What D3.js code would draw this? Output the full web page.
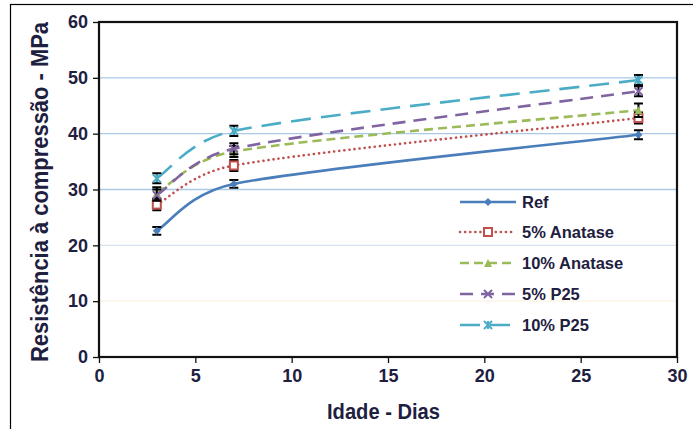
<!DOCTYPE html>
<html><head><meta charset="utf-8">
<script src="https://cdn.jsdelivr.net/npm/d3@7"></script>
<style>body{margin:0;background:#fff}svg{display:block}</style>
</head><body>
<script>
const days = [3, 7, 28];
const seriesNames = ["Ref", "5% Anatase", "10% Anatase", "5% P25", "10% P25"];
const refVals = [22.6, 31.0, 39.8];
const anat5Vals = [27.3, 34.3, 42.8];
const anat10Vals = [29.4, 36.8, 44.2];
const p25_5Vals = [29.0, 37.3, 47.6];
const p25_10Vals = [32.0, 40.5, 49.6];
const refErr = [0.7, 0.7, 0.8];
const anat5Err = [1.0, 1.0, 1.0];
const anat10Err = [1.0, 1.0, 1.2];
const p25_5Err = [1.0, 1.0, 0.9];
const p25_10Err = [0.9, 0.9, 0.9];
const xTicks = [0, 5, 10, 15, 20, 25, 30];
const yTicks = [0, 10, 20, 30, 40, 50, 60];

const W = 693, H = 429;
const svg = d3.select("body").append("svg").attr("width", W).attr("height", H);
const m = {l: 99, r: 677, t: 22, b: 357};
const x = d3.scaleLinear().domain([0, 30]).range([m.l, m.r]);
const y = d3.scaleLinear().domain([0, 60]).range([m.b, m.t]);
const txtColor = "#1e2040";
const font = "'Liberation Sans', Arial, sans-serif";

// outer frame
svg.append("rect").attr("x", 10.5).attr("y", 4.5).attr("width", 800).attr("height", 600)
  .attr("fill", "none").attr("stroke", "#000").attr("stroke-width", 1.2);

// gridlines
const gridColors = {10: "#fbf3e2", 20: "#d6e3ee", 30: "#a9c9e6", 40: "#a9c9e6", 50: "#a9c9e6"};
svg.append("g").selectAll("line").data(yTicks.filter(d => d > 0 && d < 60)).join("line")
  .attr("x1", m.l).attr("x2", m.r).attr("y1", d => y(d)).attr("y2", d => y(d))
  .attr("stroke", d => gridColors[d]).attr("stroke-width", 1.3);

// plot frame
svg.append("rect").attr("x", m.l).attr("y", m.t).attr("width", m.r - m.l).attr("height", m.b - m.t)
  .attr("fill", "none").attr("stroke", "#111").attr("stroke-width", 2.2);

// axes
const xAxis = svg.append("g").attr("transform", `translate(0,${m.b})`)
  .call(d3.axisBottom(x).tickValues(xTicks).tickSize(6).tickPadding(6));
const yAxis = svg.append("g").attr("transform", `translate(${m.l},0)`)
  .call(d3.axisLeft(y).tickValues(yTicks).tickSize(6).tickPadding(5));
[xAxis, yAxis].forEach(a => {
  a.select(".domain").remove();
  a.selectAll("line").attr("stroke", "#111").attr("stroke-width", 1.3);
  a.selectAll("text").attr("fill", txtColor).attr("font-family", font)
    .attr("font-weight", "bold").attr("font-size", 18);
});

// axis titles
svg.append("text").attr("x", 383.5).attr("y", 419).attr("text-anchor", "middle")
  .attr("font-family", font).attr("font-weight", "bold").attr("font-size", 22)
  .attr("textLength", 113).attr("lengthAdjust", "spacingAndGlyphs")
  .attr("fill", txtColor).text("Idade - Dias");
svg.append("text").attr("transform", "translate(48,192) rotate(-90)").attr("text-anchor", "middle")
  .attr("font-family", font).attr("font-weight", "bold").attr("font-size", 23)
  .attr("textLength", 340).attr("lengthAdjust", "spacingAndGlyphs")
  .attr("fill", txtColor).text("Resistência à compressão - MPa");

const series = [
  {name: seriesNames[0], vals: refVals, err: refErr, color: "#4a7ebb", dash: null, marker: "diamond", cap: "butt"},
  {name: seriesNames[1], vals: anat5Vals, err: anat5Err, color: "#c0504d", dash: "0.1 5", marker: "square", cap: "round"},
  {name: seriesNames[2], vals: anat10Vals, err: anat10Err, color: "#9bbb59", dash: "9 5", marker: "triangle", cap: "butt"},
  {name: seriesNames[3], vals: p25_5Vals, err: p25_5Err, color: "#8064a2", dash: "13 8", marker: "x", cap: "butt"},
  {name: seriesNames[4], vals: p25_10Vals, err: p25_10Err, color: "#4bacc6", dash: "20 10", marker: "star", cap: "butt"}
];

// Excel-like smoothed line: Bezier with tension 1/6, arms capped at half the segment length
function smoothPath(pts) {
  const p = pts.map(d => [x(d[0]), y(d[1])]);
  const path = d3.path();
  path.moveTo(p[0][0], p[0][1]);
  const dist = (a, b) => Math.hypot(b[0] - a[0], b[1] - a[1]);
  for (let i = 0; i < p.length - 1; i++) {
    const p0 = p[Math.max(0, i - 1)], p1 = p[i], p2 = p[i + 1], p3 = p[Math.min(p.length - 1, i + 2)];
    const d12 = dist(p1, p2);
    const v1 = [p2[0] - p0[0], p2[1] - p0[1]], l1 = Math.hypot(v1[0], v1[1]);
    const v2 = [p3[0] - p1[0], p3[1] - p1[1]], l2 = Math.hypot(v2[0], v2[1]);
    const a1 = Math.min(l1 / 6, d12 / 2), a2 = Math.min(l2 / 6, d12 / 2);
    const c1 = [p1[0] + v1[0] / l1 * a1, p1[1] + v1[1] / l1 * a1];
    const c2 = [p2[0] - v2[0] / l2 * a2, p2[1] - v2[1] / l2 * a2];
    path.bezierCurveTo(c1[0], c1[1], c2[0], c2[1], p2[0], p2[1]);
  }
  return path.toString();
}

function drawMarker(g, type, cx, cy, color) {
  const s = 4;
  if (type === "diamond") {
    g.append("path").attr("d", `M${cx},${cy-s}L${cx+s},${cy}L${cx},${cy+s}L${cx-s},${cy}Z`).attr("fill", color);
  } else if (type === "square") {
    g.append("rect").attr("x", cx-s).attr("y", cy-s).attr("width", 2*s).attr("height", 2*s)
      .attr("fill", "#fff").attr("stroke", color).attr("stroke-width", 2);
  } else if (type === "triangle") {
    g.append("path").attr("d", `M${cx},${cy-s}L${cx+s},${cy+s}L${cx-s},${cy+s}Z`).attr("fill", color);
  } else if (type === "x") {
    g.append("path").attr("d", `M${cx-s},${cy-s}L${cx+s},${cy+s}M${cx-s},${cy+s}L${cx+s},${cy-s}`)
      .attr("stroke", color).attr("stroke-width", 2);
  } else if (type === "star") {
    g.append("path").attr("d", `M${cx-s},${cy-s}L${cx+s},${cy+s}M${cx-s},${cy+s}L${cx+s},${cy-s}M${cx},${cy-s}L${cx},${cy+s}`)
      .attr("stroke", color).attr("stroke-width", 2);
  }
}

series.forEach(s => {
  const pts = days.map((d, i) => [d, s.vals[i]]);
  svg.append("path").attr("d", smoothPath(pts)).attr("fill", "none")
    .attr("stroke", s.color).attr("stroke-width", 2.6)
    .attr("stroke-dasharray", s.dash).attr("stroke-linecap", s.cap);
});
series.forEach(s => {
  const g = svg.append("g");
  days.forEach((d, i) => {
    const cx = x(d), lo = y(s.vals[i] - s.err[i]), hi = y(s.vals[i] + s.err[i]);
    g.append("path").attr("d", `M${cx},${lo}L${cx},${hi}M${cx-4.5},${lo}L${cx+4.5},${lo}M${cx-4.5},${hi}L${cx+4.5},${hi}`)
      .attr("stroke", "#000").attr("stroke-width", 2).attr("fill", "none");
    drawMarker(g, s.marker, cx, y(s.vals[i]), s.color);
  });
});

// legend
const lg = svg.append("g");
const legY = [202, 232, 263, 294, 325];
series.forEach((s, i) => {
  const yy = legY[i];
  lg.append("line").attr("x1", 460).attr("x2", 516).attr("y1", yy).attr("y2", yy)
    .attr("stroke", s.color).attr("stroke-width", 2.6)
    .attr("stroke-dasharray", s.dash).attr("stroke-linecap", s.cap);
  drawMarker(lg, s.marker, 488, yy, s.color);
  lg.append("text").attr("x", 522).attr("y", yy).attr("dy", "0.36em")
    .attr("font-family", font).attr("font-weight", "bold").attr("font-size", 16.5)
    .attr("fill", txtColor).text(s.name);
});
</script>
</body></html>
